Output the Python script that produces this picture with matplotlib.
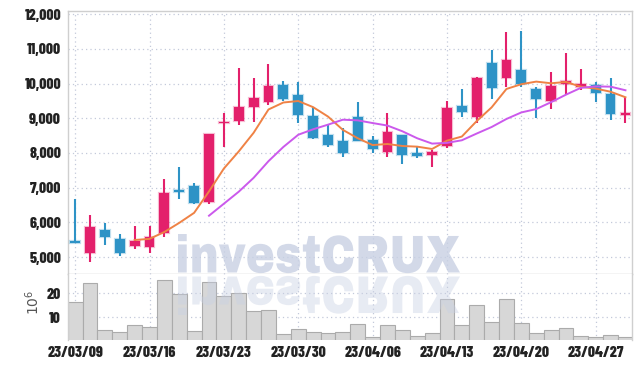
import matplotlib
matplotlib.use("Agg")
import matplotlib.pyplot as plt
import numpy as np
import pandas as pd
from matplotlib.textpath import TextPath
from matplotlib.patches import PathPatch
from matplotlib.font_manager import FontProperties
from matplotlib.transforms import Affine2D

# ---------------- data ----------------
opens  = [5430, 5124, 5778, 5519, 5330, 5300, 5680, 6910, 7050, 6600,
          8870, 8931, 9335, 9479, 9961, 9672, 9067, 8519, 8346, 9029,
          8374, 8037, 8519, 7991, 7942, 8202, 9355, 9029, 10604, 10164,
          10393, 9837, 9508, 9981, 9912, 9961, 9701, 9125]
highs  = [6660, 6200, 5990, 5672, 5885, 5903, 7241, 7604, 7143, 8560,
          9144, 10443, 10154, 10567, 10076, 10056, 9317, 8807, 8712, 9461,
          8499, 9144, 8530, 8210, 8086, 9499, 9837, 10180, 10970, 11481,
          11518, 9894, 10344, 10875, 10412, 10056, 10154, 9615]
lows   = [5410, 4860, 5346, 5030, 5230, 5107, 5577, 6664, 6529, 6530,
          8181, 8807, 8885, 9384, 9508, 8856, 8395, 8181, 7875, 8340,
          7991, 7893, 7682, 7846, 7596, 8150, 9047, 8856, 9548, 9894,
          9894, 9000, 9260, 9701, 9817, 9470, 8951, 8856]
closes = [5420, 5865, 5585, 5124, 5460, 5580, 6860, 6900, 6570, 8550,
          8880, 9326, 9586, 9932, 9557, 9095, 8441, 8230, 8008, 8355,
          8106, 8597, 7942, 7913, 8020, 9307, 9190, 10174, 9883, 10681,
          9990, 9566, 9932, 10076, 9990, 9721, 9116, 9135]
volumes = [16.3, 24.2, 4.6, 3.8, 6.7, 5.8, 25.4, 19.7, 4.2, 24.8,
           18.9, 20.0, 12.6, 13.0, 3.0, 5.0, 3.9, 3.5, 3.9, 7.2,
           1.7, 6.7, 4.7, 2.2, 3.3, 17.5, 6.7, 15.0, 7.9, 17.5,
           7.6, 3.5, 4.7, 5.4, 2.1, 1.7, 2.5, 1.7]
tick_labels = ['23/03/09', '23/03/16', '23/03/23', '23/03/30',
               '23/04/06', '23/04/13', '23/04/20', '23/04/27']
price_ticks = [5000, 6000, 7000, 8000, 9000, 10000, 11000, 12000]
vol_ticks = [10, 20]

# ---------------- style ----------------
UP = '#e3206b'
DOWN = '#2e93c6'
MA5_C = '#ef8245'
MA10_C = '#cb59ec'
GRID = '#c3c9da'
SPINE = '#cfcfcf'
TXT = '#222222'

tick_font = FontProperties(family=['Barlow Condensed', 'DejaVu Sans'],
                           weight=800, size=11.2)

n = len(closes)
x = np.arange(n)
o = np.array(opens, float); c = np.array(closes, float)
h = np.array(highs, float); l = np.array(lows, float)
up = c >= o
colors = np.where(up, UP, DOWN)

ma5 = pd.Series(c).rolling(5).mean()
ma10 = pd.Series(c).rolling(10).mean()

fig = plt.figure(figsize=(6.42, 3.68), dpi=100)
W, H = 642, 368
def ax_rect(l_, t_, r_, b_):
    return [l_ / W, 1 - b_ / H, (r_ - l_) / W, (b_ - t_) / H]

axp = fig.add_axes(ax_rect(68, 11, 632, 274))
axv = fig.add_axes(ax_rect(68, 274, 632, 340), sharex=axp)

xt = list(range(0, n, 5))[:len(tick_labels)]

for ax in (axp, axv):
    ax.set_facecolor('white')
    ax.set_axisbelow(True)
    ax.grid(True, color=GRID, linestyle=(0, (1, 2.5)), linewidth=0.9)
    for s in ax.spines.values():
        s.set_color(SPINE)
        s.set_linewidth(1.0)
    ax.tick_params(length=0, colors=TXT)

# candles
axp.vlines(x, l, h, colors=colors, linewidth=1.5, zorder=3)
body_bot = np.minimum(o, c)
body_h = np.maximum(np.abs(c - o), 45)
body_bot = np.where(np.abs(c - o) < 45, (o + c) / 2 - 22.5, body_bot)
axp.bar(x, body_h, bottom=body_bot, width=0.66, color=colors,
        edgecolor=[matplotlib.colors.to_rgba(col, 0.3) for col in colors],
        linewidth=1.6, zorder=4)
axp.plot(x, ma5, color=MA5_C, linewidth=1.4, zorder=5)
axp.plot(x, ma10, color=MA10_C, linewidth=1.4, zorder=5)

axp.set_xlim(-0.48, 37.44)
axp.set_ylim(4510, 12095)
axp.set_yticks(price_ticks)
axp.set_yticklabels([f'{v:,}' for v in price_ticks], fontproperties=tick_font)
axp.tick_params(axis='y', pad=5)
axp.tick_params(axis='x', labelbottom=False)
axp.set_xticks(xt)
axp.spines['bottom'].set_color('#c8c8c8')

# volume
axv.bar(x, volumes, width=1.0, color='#d7d7d7', edgecolor='#ababab',
        linewidth=0.8, zorder=2)
axv.set_ylim(0.5, 28)
axv.set_yticks(vol_ticks)
axv.set_yticklabels([str(v) for v in vol_ticks], fontproperties=tick_font)
axv.tick_params(axis='y', pad=5)
axv.set_xticks(xt)
axv.set_xticklabels(tick_labels, fontproperties=tick_font)
axv.tick_params(axis='x', pad=4)
axv.spines['top'].set_visible(False)
axv.spines['bottom'].set_visible(False)

fig.text(33 / W, 1 - 302 / H, r'$10^6$', rotation=90, ha='center',
         va='center', color='#555555', fontsize=10)

# watermark with reflection
tp = TextPath((0, 0), 'investCRUX',
              prop=FontProperties(family=['Archivo Black', 'Liberation Sans'],
                                  weight='bold'),
              size=100)
bb = tp.get_extents()
x0, x1, y_base, y_top = 178, 460, 272.5, 234
sx = (x1 - x0) / bb.width
sy = (y_base - y_top) / (bb.y1 - 0)
t_main = Affine2D().translate(-bb.x0, 0).scale(sx, sy).translate(x0, H - y_base)
t_refl = Affine2D().translate(-bb.x0, 0).scale(sx, -sy).translate(x0, H - 276.5)
wm = PathPatch(tp, transform=t_main, facecolor='#c8d0e3', edgecolor='none',
               alpha=0.8, zorder=1)
wr = PathPatch(tp, transform=t_refl, facecolor='#c8d0e3', edgecolor='none',
               alpha=0.42, zorder=1)
fig.add_artist(wm)
fig.add_artist(wr)

fig.savefig('out.png', dpi=100, facecolor='white')
